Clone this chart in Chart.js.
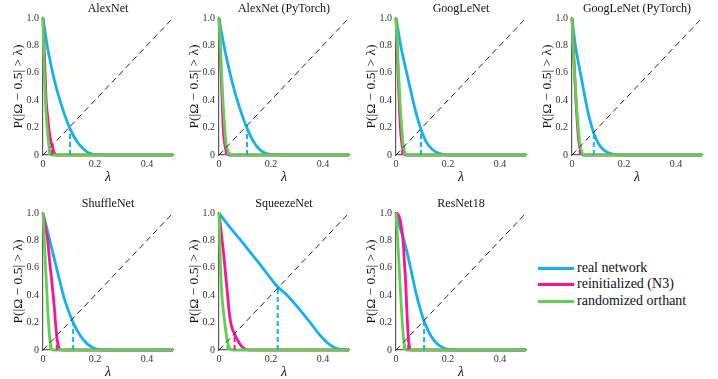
<!DOCTYPE html>
<html lang="en">
<head>
<meta charset="UTF-8" />
<title>P(|Ω − 0.5| > λ)</title>
<script src="https://cdn.jsdelivr.net/npm/chart.js"></script>
<style>
  body { margin: 0; width: 718px; height: 379px; position: relative; background: #fff; overflow: hidden; font-family: 'Liberation Serif', serif; }
  canvas { position: absolute; }
  .legend { position: absolute; left: 538px; top: 259.5px; font-size: 14px; color: #111; }
  .legend div { height: 16.5px; line-height: 16.5px; white-space: nowrap; }
  .legend span { display: inline-block; width: 36px; height: 3px; vertical-align: middle; margin-right: 3px; }
</style>
</head>
<body>

<div class="legend" id="legend"></div>

<script>
  // panel titles, legend names, ticks
  const panelTitles = ['AlexNet', 'AlexNet (PyTorch)', 'GoogLeNet', 'GoogLeNet (PyTorch)', 'ShuffleNet', 'SqueezeNet', 'ResNet18'];
  const seriesNames = ['real network', 'reinitialized (N3)', 'randomized orthant'];
  const xTicks = [0, 0.2, 0.4];
  const yTicks = [0, 0.2, 0.4, 0.6, 0.8, 1];
  const diagonal = [[0, 0], [0.5, 1]];

  // [lambda, P], one list per panel
  const realNetwork = [
    [[0,1],[0.008,0.9],[0.016,0.8],[0.026,0.7],[0.037,0.6],[0.05,0.5],[0.065,0.4],[0.082,0.3],[0.102,0.2],[0.13,0.1],[0.158,0.04],[0.18,0.012],[0.2,0.002],[0.25,0],[0.5,0]],
    [[0,1],[0.009,0.9],[0.019,0.8],[0.03,0.7],[0.042,0.6],[0.055,0.5],[0.07,0.4],[0.087,0.3],[0.107,0.2],[0.132,0.1],[0.156,0.04],[0.18,0.012],[0.21,0.002],[0.25,0],[0.5,0]],
    [[0,1],[0.009,0.9],[0.018,0.8],[0.029,0.7],[0.041,0.6],[0.053,0.5],[0.065,0.4],[0.078,0.3],[0.094,0.2],[0.115,0.1],[0.14,0.04],[0.165,0.012],[0.19,0.002],[0.23,0],[0.5,0]],
    [[0,1],[0.006,0.9],[0.013,0.8],[0.022,0.7],[0.032,0.6],[0.042,0.5],[0.052,0.4],[0.063,0.3],[0.077,0.2],[0.097,0.1],[0.12,0.04],[0.145,0.012],[0.17,0.002],[0.21,0],[0.5,0]],
    [[0,1],[0.013,0.9],[0.026,0.8],[0.039,0.7],[0.052,0.6],[0.065,0.5],[0.078,0.4],[0.095,0.3],[0.116,0.2],[0.145,0.1],[0.17,0.045],[0.195,0.015],[0.22,0.003],[0.26,0],[0.5,0]],
    [[0,1],[0.04,0.9],[0.084,0.8],[0.126,0.7],[0.168,0.6],[0.208,0.5],[0.226,0.46],[0.262,0.4],[0.308,0.3],[0.351,0.2],[0.392,0.1],[0.425,0.04],[0.452,0.012],[0.475,0.002],[0.5,0]],
    [[0,1],[0.014,0.9],[0.031,0.8],[0.044,0.7],[0.056,0.6],[0.067,0.5],[0.079,0.4],[0.093,0.3],[0.11,0.2],[0.135,0.1],[0.158,0.045],[0.183,0.015],[0.21,0.003],[0.25,0],[0.5,0]]
  ];
  const reinitialized = [
    [[0,1],[0.004,0.8],[0.008,0.6],[0.012,0.4],[0.018,0.28],[0.022,0.2],[0.03,0.1],[0.035,0.07],[0.04,0.03],[0.048,0.004],[0.055,0],[0.5,0]],
    [[0,1],[0.004,0.8],[0.008,0.6],[0.012,0.4],[0.016,0.2],[0.022,0.08],[0.028,0.03],[0.035,0.005],[0.04,0],[0.5,0]],
    [[0,1],[0.004,0.8],[0.008,0.6],[0.012,0.4],[0.017,0.2],[0.022,0.09],[0.028,0.03],[0.034,0.005],[0.04,0],[0.5,0]],
    [[0,1],[0.005,0.8],[0.01,0.6],[0.015,0.4],[0.02,0.25],[0.025,0.12],[0.03,0.06],[0.035,0.02],[0.04,0.004],[0.045,0],[0.5,0]],
    [[0,1],[0.009,0.9],[0.018,0.8],[0.023,0.7],[0.028,0.6],[0.034,0.5],[0.039,0.4],[0.044,0.3],[0.048,0.2],[0.053,0.1],[0.057,0.05],[0.062,0.015],[0.068,0.002],[0.075,0],[0.5,0]],
    [[0,1],[0.006,0.9],[0.012,0.8],[0.018,0.7],[0.023,0.6],[0.028,0.5],[0.033,0.4],[0.038,0.3],[0.045,0.2],[0.052,0.15],[0.06,0.118],[0.07,0.075],[0.08,0.045],[0.09,0.022],[0.1,0.008],[0.112,0.001],[0.12,0],[0.5,0]],
    [[0,1],[0.008,0.99],[0.016,0.95],[0.022,0.88],[0.028,0.78],[0.033,0.62],[0.037,0.5],[0.041,0.32],[0.044,0.2],[0.047,0.1],[0.05,0.04],[0.053,0.01],[0.057,0],[0.5,0]]
  ];
  const randomOrthant = [
    [[0,1],[0.002,0.8],[0.005,0.6],[0.009,0.4],[0.016,0.2],[0.022,0.08],[0.028,0.01],[0.032,0],[0.5,0]],
    [[0,1],[0.005,0.8],[0.01,0.6],[0.015,0.4],[0.02,0.25],[0.026,0.1],[0.032,0.04],[0.04,0.01],[0.048,0],[0.5,0]],
    [[0,1],[0.005,0.8],[0.01,0.6],[0.015,0.4],[0.02,0.25],[0.026,0.1],[0.032,0.03],[0.038,0.005],[0.045,0],[0.5,0]],
    [[0,1],[0.004,0.8],[0.008,0.65],[0.013,0.5],[0.018,0.35],[0.024,0.2],[0.03,0.09],[0.036,0.03],[0.042,0.005],[0.048,0],[0.5,0]],
    [[0,1],[0.005,0.8],[0.01,0.6],[0.014,0.45],[0.018,0.3],[0.022,0.18],[0.026,0.08],[0.03,0.03],[0.034,0.005],[0.04,0],[0.5,0]],
    [[0,1],[0.003,0.8],[0.006,0.6],[0.011,0.4],[0.016,0.3],[0.022,0.2],[0.028,0.11],[0.034,0.05],[0.04,0.015],[0.047,0.002],[0.055,0],[0.5,0]],
    [[0,1],[0.005,0.85],[0.01,0.68],[0.015,0.5],[0.02,0.33],[0.025,0.18],[0.03,0.07],[0.034,0.02],[0.038,0.003],[0.042,0],[0.5,0]]
  ];

  // where each curve meets the dashed diagonal
  const realCross = [[0.104,0.208],[0.108,0.216],[0.096,0.192],[0.084,0.168],[0.116,0.232],[0.226,0.452],[0.108,0.216]];
  const reinitCross = [[0.035,0.07],[0.026,0.052],[0.024,0.048],[0.03,0.06],[0.053,0.104],[0.06,0.12],[0.047,0.095]];
  const orthantCross = [[0.024,0.048],[0.03,0.06],[0.028,0.056],[0.031,0.062],[0.028,0.056],[0.032,0.064],[0.0305,0.061]];

  const colors = ['#14b1f2', '#ff1196', '#5ed24e'];
  const serif = "'Liberation Serif', 'DejaVu Serif', serif";
  const axLeft = [43, 219, 396, 572, 43, 219, 396];
  const rowTop = [0, 0, 0, 0, 195, 195, 195];

  // legend
  const legend = document.getElementById('legend');
  seriesNames.forEach((name, k) => {
    const row = document.createElement('div');
    row.innerHTML = '<span style="background:' + colors[k] + '"></span>' + name;
    legend.appendChild(row);
  });

  function curve(data, color) {
    return { data, borderColor: color, borderWidth: 2.8, pointRadius: 0, cubicInterpolationMode: 'monotone', clip: false };
  }
  function drop(pt, color) {
    return { data: [[pt[0], 0], pt], borderColor: color, borderWidth: 2, borderDash: [5, 3], pointRadius: 0, clip: false };
  }

  panelTitles.forEach((title, i) => {
    const cv = document.createElement('canvas');
    cv.width = 180;
    cv.height = 185;
    cv.style.left = (axLeft[i] - 43) + 'px';
    cv.style.top = rowTop[i] + 'px';
    document.body.appendChild(cv);

    new Chart(cv, {
      type: 'line',
      data: { datasets: [
        drop(realCross[i], colors[0]),
        drop(reinitCross[i], colors[1]),
        drop(orthantCross[i], colors[2]),
        { data: diagonal, borderColor: '#222', borderWidth: 1, borderDash: [6, 4], pointRadius: 0 },
        curve(randomOrthant[i], colors[2]),
        curve(reinitialized[i], colors[1]),
        curve(realNetwork[i], colors[0])
      ]},
      options: {
        responsive: false,
        animation: false,
        layout: { padding: { left: 0, right: 7, top: 0, bottom: 0 } },
        plugins: {
          legend: { display: false },
          tooltip: { enabled: false },
          title: { display: true, text: title, fullSize: false, color: '#111',
                   font: { family: serif, size: 12, weight: 'normal', lineHeight: 1 }, padding: { top: 3, bottom: 3 } }
        },
        scales: {
          x: {
            type: 'linear', min: 0, max: 0.5,
            afterBuildTicks: s => { s.ticks = xTicks.map(v => ({ value: v })); },
            afterFit: s => { s.height = 30; },
            grid: { display: false, drawTicks: false },
            border: { color: '#5a5a5a', width: 1.2 },
            ticks: { font: { family: serif, size: 10 }, color: '#333', padding: 3, maxRotation: 0, autoSkip: false },
            title: { display: true, text: 'λ', color: '#111', font: { family: serif, size: 14, style: 'italic', lineHeight: 1 }, padding: { top: 0, bottom: 1 } }
          },
          y: {
            type: 'linear', min: 0, max: 1,
            afterBuildTicks: s => { s.ticks = yTicks.map(v => ({ value: v })); },
            afterFit: s => { s.width = 43; },
            grid: { display: false, drawTicks: false },
            border: { color: '#5a5a5a', width: 1.2 },
            ticks: { font: { family: serif, size: 10 }, color: '#333', padding: 4, autoSkip: false },
            title: { display: true, text: 'P(|Ω − 0.5| > λ)', color: '#111', font: { family: serif, size: 13.5, lineHeight: 1 }, padding: { top: 12, bottom: 0 } }
          }
        }
      }
    });
  });
</script>

</body>
</html>
